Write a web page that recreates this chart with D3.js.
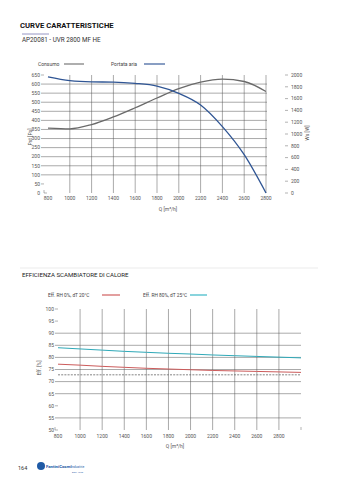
<!DOCTYPE html>
<html><head><meta charset="utf-8">
<script src="https://cdn.jsdelivr.net/npm/d3@7/dist/d3.min.js"></script>
<style>body{margin:0;background:#fff}svg{display:block;font-family:Roboto,"DejaVu Sans",sans-serif}</style>
</head><body><svg id="c" width="339" height="480"></svg>
<script>
// ---- data ----
const qTop = [800,1000,1200,1400,1600,1800,2000,2200,2400,2600,2800];
const portataAria = [640,619,612,611,604,589,549,485,366,211,0];      // Pst [Pa]
const consumo = [1100,1088,1160,1290,1445,1610,1770,1880,1930,1890,1720]; // Ws [W]
const yLeftTicks = [0,50,100,150,200,250,300,350,400,450,500,550,600,650];
const yLeftGrid = [100,150,200,250,300,350,400,450,500,550,600];
const yRightTicks = [0,200,400,600,800,1000,1200,1400,1600,1800,2000];
const xTopTicks = [800,1000,1200,1400,1600,1800,2000,2200,2400,2600,2800];

const qBot = [800,1000,1200,1400,1600,1800,2000,2200,2400,2600,2800,3000];
const effRH0 = [77.2,76.8,76.3,75.9,75.5,75.2,74.9,74.6,74.4,74.2,74.0,73.8];
const effRH80 = [84.0,83.5,83.0,82.5,82.1,81.7,81.4,81.0,80.7,80.4,80.1,79.8];
const effRef = 72.8;
const yBotTicks = [50,55,60,65,70,75,80,85,90,95,100];
const yBotGrid = [55,65,70,75,80,85,90];
const xBotTicks = [800,1000,1200,1400,1600,1800,2000,2200,2400,2600,2800];

const svg = d3.select("#c");
const tickCol = "#666", gridCol = "#555";

// ---- header ----
svg.append("text").attr("x",20).attr("y",28).attr("font-size",7.7).attr("font-weight",700).attr("fill","#111").text("CURVE CARATTERISTICHE");
svg.append("line").attr("x1",22).attr("x2",49).attr("y1",34).attr("y2",34).attr("stroke","#7b7bb5").attr("stroke-width",0.8);
svg.append("text").attr("x",22).attr("y",42).attr("font-size",6.3).attr("fill","#333").text("AP20081 - UVR 2800 MF HE");

// ---- top chart ----
const x1 = d3.scaleLinear().domain([800,2800]).range([48,266]);
const yL = d3.scaleLinear().domain([0,650]).range([193,75]);
const yR = d3.scaleLinear().domain([0,2000]).range([193,75]);

function legend(g, x, y, label, color, lx1, lx2, fs){
  g.append("text").attr("x",x).attr("y",y+1.8).attr("font-size",fs).attr("fill","#444").text(label);
  g.append("line").attr("x1",lx1).attr("x2",lx2).attr("y1",y).attr("y2",y).attr("stroke",color).attr("stroke-width",1.2);
}
legend(svg,38,64,"Consumo","#777",64,84,5);
legend(svg,111,64,"Portata aria","#3a5d9a",144,165,5);

const gTop = svg.append("g");
gTop.selectAll(".hg").data(yLeftGrid).join("line").attr("x1",41).attr("x2",x1(2800)+1)
  .attr("y1",d=>yL(d)).attr("y2",d=>yL(d)).attr("stroke",gridCol).attr("stroke-width",0.5);
gTop.selectAll(".ht").data(yLeftTicks.filter(d=>!yLeftGrid.includes(d) && d!==0)).join("line").attr("x1",41).attr("x2",44)
  .attr("y1",d=>yL(d)).attr("y2",d=>yL(d)).attr("stroke",tickCol).attr("stroke-width",0.5);
gTop.selectAll(".vg").data(xTopTicks.slice(1)).join("line").attr("x1",d=>x1(d)).attr("x2",d=>x1(d))
  .attr("y1",yL(650)).attr("y2",yL(0)).attr("stroke",gridCol).attr("stroke-width",0.5);
gTop.append("path").attr("d",`M${x1(800)-4},${yL(0)-3}V${yL(0)}H${x1(800)-1}`).attr("fill","none").attr("stroke",tickCol).attr("stroke-width",0.5);
gTop.selectAll(".yl").data(yLeftTicks).join("text").attr("x",40).attr("y",d=>yL(d)+1.8).attr("text-anchor","end")
  .attr("font-size",5).attr("fill","#555").text(d=>d);
gTop.selectAll(".rt").data(yRightTicks).join("line").attr("x1",285).attr("x2",288)
  .attr("y1",d=>yR(d)).attr("y2",d=>yR(d)).attr("stroke",tickCol).attr("stroke-width",0.5);
gTop.selectAll(".yr").data(yRightTicks).join("text").attr("x",291).attr("y",d=>yR(d)+1.8)
  .attr("font-size",5).attr("fill","#555").text(d=>d);
gTop.selectAll(".xl").data(xTopTicks).join("text").attr("x",d=>x1(d)).attr("y",200).attr("text-anchor","middle")
  .attr("font-size",5).attr("fill","#555").text(d=>d);
gTop.append("text").attr("x",168).attr("y",211).attr("text-anchor","middle").attr("font-size",5).attr("fill","#555").text("Q [m³/h]");
gTop.append("text").attr("transform","translate(32,137) rotate(-90)").attr("text-anchor","middle").attr("font-size",5).attr("fill","#555").text("Pst [Pa]");
gTop.append("text").attr("transform","translate(309,133) rotate(-90)").attr("text-anchor","middle").attr("font-size",5).attr("fill","#555").text("Ws [W]");
const lineL = d3.line().x((d,i)=>x1(qTop[i])).y(d=>yL(d)).curve(d3.curveMonotoneX);
const lineR = d3.line().x((d,i)=>x1(qTop[i])).y(d=>yR(d)).curve(d3.curveMonotoneX);
gTop.append("path").attr("d",lineR(consumo)).attr("fill","none").attr("stroke","#6a6a6a").attr("stroke-width",1.3);
gTop.append("path").attr("d",lineL(portataAria)).attr("fill","none").attr("stroke","#2f5594").attr("stroke-width",1.3);

// ---- separator + bottom title ----
svg.append("line").attr("x1",20).attr("x2",318).attr("y1",268).attr("y2",268).attr("stroke","#ddd").attr("stroke-width",0.6);
svg.append("text").attr("x",22).attr("y",276.5).attr("font-size",6.1).attr("font-weight",400).attr("fill","#222").text("EFFICIENZA SCAMBIATORE DI CALORE");

legend(svg,48,295,"Eff. RH 0%, dT 20°C","#d06060",102,120,4.8);
legend(svg,143,295,"Eff. RH 80%, dT 25°C","#3bb8c6",190,207,4.8);

// ---- bottom chart ----
const x2 = d3.scaleLinear().domain([800,3000]).range([58,301]);
const yB = d3.scaleLinear().domain([50,100]).range([430,309]);
const gBot = svg.append("g");
gBot.selectAll(".hg").data(yBotGrid).join("line").attr("x1",55).attr("x2",x2(3000))
  .attr("y1",d=>yB(d)).attr("y2",d=>yB(d)).attr("stroke",gridCol).attr("stroke-width",0.5);
gBot.selectAll(".ht").data(yBotTicks.filter(d=>!yBotGrid.includes(d) && d!==50)).join("line").attr("x1",55).attr("x2",58)
  .attr("y1",d=>yB(d)).attr("y2",d=>yB(d)).attr("stroke",tickCol).attr("stroke-width",0.5);
gBot.selectAll(".vg").data(xBotTicks.slice(1)).join("line").attr("x1",d=>x2(d)).attr("x2",d=>x2(d))
  .attr("y1",yB(100)).attr("y2",yB(50)).attr("stroke",gridCol).attr("stroke-width",0.5);
gBot.append("path").attr("d",`M${x2(800)-3},${yB(50)-3}V${yB(50)}H${x2(800)}`).attr("fill","none").attr("stroke",tickCol).attr("stroke-width",0.5);
gBot.append("line").attr("x1",x2(3000)).attr("x2",x2(3000)).attr("y1",yB(50)-3).attr("y2",yB(50)).attr("stroke",tickCol).attr("stroke-width",0.5);
gBot.selectAll(".yl").data(yBotTicks).join("text").attr("x",54).attr("y",d=>yB(d)+1.8).attr("text-anchor","end")
  .attr("font-size",5).attr("fill","#555").text(d=>d);
gBot.selectAll(".xl").data(xBotTicks).join("text").attr("x",d=>x2(d)).attr("y",437.5).attr("text-anchor","middle")
  .attr("font-size",5).attr("fill","#555").text(d=>d);
gBot.append("text").attr("x",175).attr("y",448).attr("text-anchor","middle").attr("font-size",5).attr("fill","#555").text("Q [m³/h]");
gBot.append("text").attr("transform","translate(41,368) rotate(-90)").attr("text-anchor","middle").attr("font-size",5).attr("fill","#555").text("Eff. [%]");
gBot.append("line").attr("x1",x2(800)).attr("x2",x2(3000)).attr("y1",yB(effRef)).attr("y2",yB(effRef))
  .attr("stroke","#666").attr("stroke-width",0.8).attr("stroke-dasharray","2,1.2");
const lineB = d3.line().x((d,i)=>x2(qBot[i])).y(d=>yB(d)).curve(d3.curveMonotoneX);
gBot.append("path").attr("d",lineB(effRH0)).attr("fill","none").attr("stroke","#cc5b5b").attr("stroke-width",1);
gBot.append("path").attr("d",lineB(effRH80)).attr("fill","none").attr("stroke","#2fa9b8").attr("stroke-width",1);

// ---- footer ----
svg.append("text").attr("x",18).attr("y",470).attr("font-size",5.5).attr("fill","#333").text("164");
svg.append("rect").attr("x",37).attr("y",462).attr("width",8).attr("height",8).attr("rx",4).attr("fill","#1f5aa6");
svg.append("text").attr("x",46).attr("y",468).attr("font-size",4.3).attr("font-weight",700).attr("fill","#1f5aa6").text("FantiniCosmi");
svg.append("text").attr("x",71).attr("y",468).attr("font-size",3.4).attr("fill","#1f5aa6").text("Industrie");
svg.append("text").attr("x",72).attr("y",473).attr("font-size",2.5).attr("fill","#1f5aa6").text("EST. 1926");
</script></body></html>
